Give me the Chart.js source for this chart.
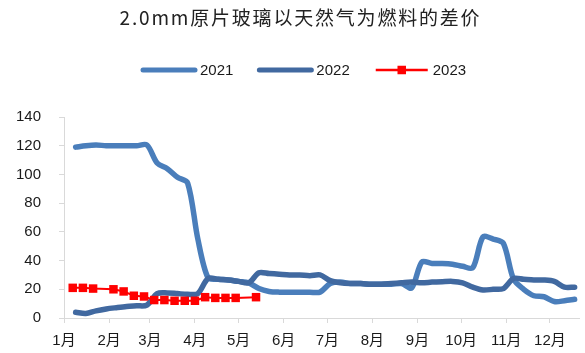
<!DOCTYPE html>
<html>
<head>
<meta charset="utf-8">
<script src="https://cdn.jsdelivr.net/npm/chart.js@4.4.1/dist/chart.umd.min.js"></script>
<style>
  html, body { margin: 0; padding: 0; background: #ffffff; }
  #wrap { width: 585px; height: 353px; position: relative; }
</style>
</head>
<body>
<div id="wrap"><canvas id="c" width="585" height="353"></canvas></div>
<script>
// Chart title and month axis labels
const chartTitle = '2.0mm原片玻璃以天然气为燃料的差价';
const monthLabels = ['1月', '2月', '3月', '4月', '5月', '6月', '7月', '8月', '9月', '10月', '11月', '12月'];
// Day of year on which each month starts (x axis tick positions)
const monthStartDays = [0, 31, 59, 90, 120, 151, 181, 212, 243, 273, 304, 334];

// Weekly observation days (day of year) for 2021 and 2022
const weekDays = [8, 15, 22, 29, 36, 43, 50, 57, 64, 71, 78, 85, 92, 99, 106, 113, 120, 127, 134, 141,
  148, 155, 162, 169, 176, 183, 190, 197, 204, 211, 218, 225, 232, 239, 246, 253, 260, 267, 274, 281,
  288, 295, 302, 309, 316, 323, 330, 337, 344, 351];

// Price gap, yuan per weight case
const values2021 = [119, 120, 120.5, 120, 120, 120, 120, 120.5, 108, 104, 98, 94, 55, 28, 27, 26.5, 25.5, 24.5, 20.5, 18.5,
  18, 18, 18, 18, 18, 24, 25, 24, 24, 23.5, 23.5, 23.5, 24, 21, 39, 38, 38, 37.5, 36, 35,
  56.5, 55, 52, 27, 20, 15.5, 14.8, 11.5, 12, 13];
const values2022 = [4, 3.2, 5, 6.3, 7.2, 8, 8.5, 9, 17, 17.5, 17, 16.5, 17, 27.5, 27, 26.5, 25.5, 24.5, 31.5, 31,
  30.5, 30, 30, 29.5, 30, 26, 24.5, 24, 24, 23.5, 23.5, 24, 24.5, 25, 24.5, 25, 25.3, 25.5, 24.5, 21.5,
  19.5, 20, 20.5, 27.5, 27, 26.5, 26.5, 25.5, 21.5, 21.5];

// 2023 observations (day of year, value)
const days2023 = [6, 13, 20, 34, 41, 48, 55, 62, 69, 76, 83, 90, 97, 104, 111, 118, 132];
const values2023 = [21, 21, 20.5, 20, 18.5, 15.5, 15, 12.5, 12.5, 12, 12, 12, 14.5, 14, 14, 14, 14.5];

const toPoints = (xs, ys) => xs.map((x, i) => ({ x: x, y: ys[i] }));

const textColor = '#1a1a1a';
const axisColor = '#d9d9d9';
const latinCjk = '"Liberation Sans", Arial, "Noto Sans CJK SC", sans-serif';

// Title drawn above the plot
const titlePlugin = {
  id: 'topTitle',
  afterDraw(chart) {
    const ctx = chart.ctx;
    ctx.save();
    ctx.font = '19px "Noto Sans CJK SC", sans-serif';
    ctx.letterSpacing = '1.8px';
    ctx.fillStyle = '#222222';
    ctx.textAlign = 'center';
    ctx.textBaseline = 'middle';
    ctx.fillText(chartTitle, 300.5, 18);
    ctx.restore();
  }
};

// Legend with a line sample (and marker where the series has one)
const lineLegendPlugin = {
  id: 'lineLegend',
  afterDraw(chart) {
    const ctx = chart.ctx;
    const y = 70, sampleW = 56, gap = 3, spacing = 24;
    let x = 141;
    ctx.save();
    ctx.font = '15px ' + latinCjk;
    ctx.textBaseline = 'middle';
    ctx.textAlign = 'left';
    chart.data.datasets.forEach(ds => {
      ctx.strokeStyle = ds.borderColor;
      ctx.lineWidth = ds.legendLineWidth;
      ctx.lineCap = ds.pointStyle === 'rect' ? 'butt' : 'round';
      ctx.beginPath();
      ctx.moveTo(x + 2, y);
      ctx.lineTo(x + sampleW - 2, y);
      ctx.stroke();
      if (ds.pointStyle === 'rect') {
        const s = 8.5;
        ctx.fillStyle = ds.pointBackgroundColor;
        ctx.fillRect(x + sampleW / 2 - s / 2, y - s / 2, s, s);
      }
      ctx.fillStyle = textColor;
      ctx.fillText(ds.label, x + sampleW + gap, y + 1);
      x += sampleW + gap + ctx.measureText(ds.label).width + spacing;
    });
    ctx.restore();
  }
};

new Chart(document.getElementById('c'), {
  type: 'line',
  data: {
    datasets: [
      {
        label: '2021',
        data: toPoints(weekDays, values2021),
        borderColor: '#4A7EBB',
        borderWidth: 5.5,
        legendLineWidth: 5,
        tension: 0.3,
        pointRadius: 0,
        borderJoinStyle: 'round',
        borderCapStyle: 'round',
        order: 3
      },
      {
        label: '2022',
        data: toPoints(weekDays, values2022),
        borderColor: '#4169A0',
        borderWidth: 5.5,
        legendLineWidth: 5,
        tension: 0.3,
        pointRadius: 0,
        borderJoinStyle: 'round',
        borderCapStyle: 'round',
        order: 2
      },
      {
        label: '2023',
        data: toPoints(days2023, values2023),
        borderColor: '#FF0000',
        borderWidth: 2,
        legendLineWidth: 2.5,
        tension: 0,
        pointStyle: 'rect',
        pointRadius: 6,
        pointBackgroundColor: '#FF0000',
        pointBorderColor: '#FF0000',
        pointBorderWidth: 0,
        order: 1
      }
    ]
  },
  options: {
    responsive: false,
    devicePixelRatio: 1,
    animation: false,
    events: [],
    layout: { padding: { top: 117, right: 5, bottom: 0, left: 0 } },
    plugins: {
      legend: { display: false },
      title: { display: false },
      tooltip: { enabled: false }
    },
    scales: {
      x: {
        type: 'linear',
        min: 0,
        max: 354,
        afterBuildTicks: scale => { scale.ticks = monthStartDays.map(v => ({ value: v })); },
        afterFit: scale => { scale.height = 35; },
        ticks: {
          autoSkip: false,
          maxRotation: 0,
          padding: 9,
          color: textColor,
          font: { family: latinCjk, size: 15 },
          callback: (value, index) => monthLabels[index]
        },
        grid: { drawOnChartArea: false, drawTicks: true, tickLength: 5, color: axisColor, lineWidth: 1 },
        border: { display: true, color: axisColor, width: 1 }
      },
      y: {
        min: 0,
        max: 140,
        afterFit: scale => { scale.width = 64; },
        ticks: {
          stepSize: 20,
          padding: 18,
          color: textColor,
          font: { family: latinCjk, size: 15 }
        },
        grid: { drawOnChartArea: false, drawTicks: true, tickLength: 5, color: axisColor, lineWidth: 1 },
        border: { display: true, color: axisColor, width: 1 }
      }
    }
  },
  plugins: [titlePlugin, lineLegendPlugin]
});
</script>
</body>
</html>
